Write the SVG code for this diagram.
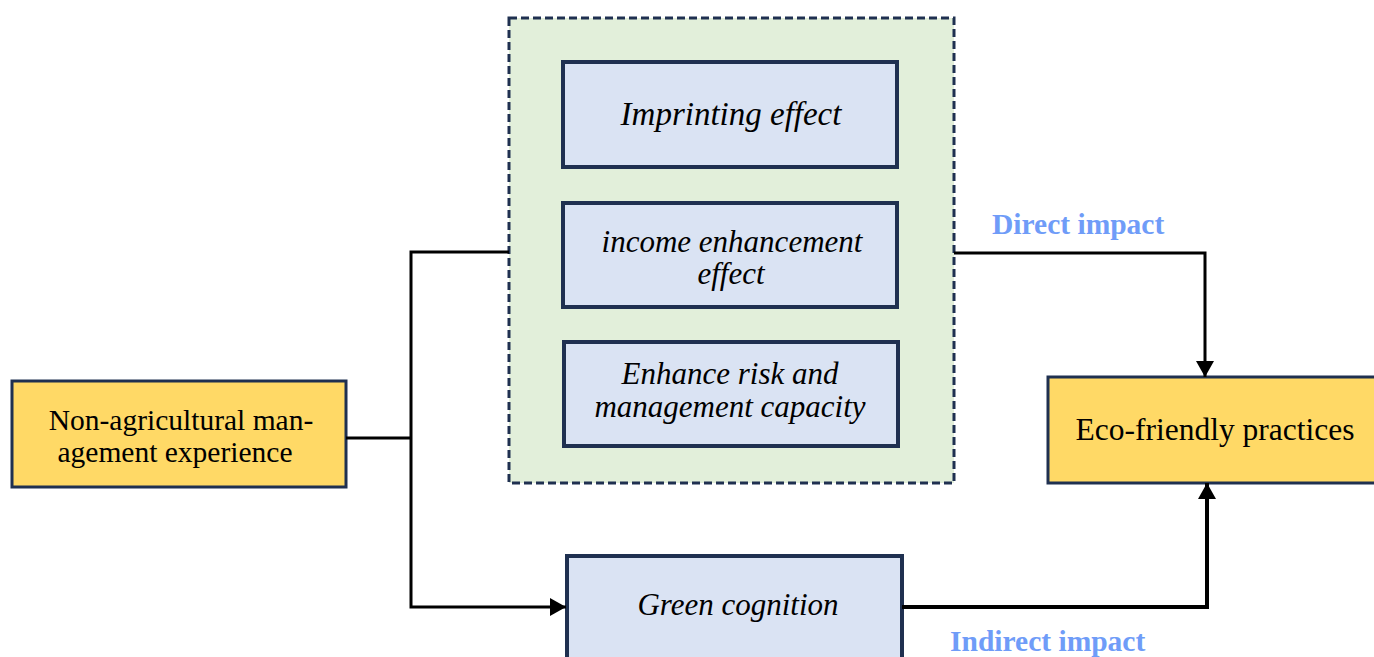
<svg xmlns="http://www.w3.org/2000/svg" width="1374" height="657" viewBox="0 0 1374 657">
<defs>
<style>
.yel{fill:#FFD966;stroke:#1F3050;stroke-width:3}
.blu{fill:#DAE3F3;stroke:#1F3050;stroke-width:4}
.cont{fill:#E2EFDA;stroke:#1F3050;stroke-width:3;stroke-dasharray:8 4}
.t{font-family:"Liberation Serif","Times New Roman",serif;fill:#000;text-anchor:middle}
.it{font-style:italic;font-size:31px}
.rg{font-size:29.5px}
.lab{font-family:"Liberation Serif","Times New Roman",serif;font-weight:bold;font-size:29.5px;fill:#6F9CF8}
.ln{fill:none;stroke:#000;stroke-width:3}
</style>
<marker id="arr" markerUnits="userSpaceOnUse" markerWidth="18" markerHeight="18" refX="16" refY="9" orient="auto">
<path d="M0,0 L16,9 L0,18 z" fill="#000"/>
</marker>
</defs>
<g id="mechanisms">
<rect class="cont" x="509" y="18" width="445" height="465"/>
</g>
<g id="imprinting">
<rect class="blu" x="563" y="62" width="334" height="105"/>
<text class="t it" x="731" y="125" style="font-size:33px">Imprinting effect</text>
</g>
<g id="income">
<rect class="blu" x="563" y="203" width="334" height="104"/>
<text class="t it" x="732" y="252">income enhancement</text>
<text class="t it" x="731" y="284">effect</text>
</g>
<g id="risk">
<rect class="blu" x="564" y="342" width="334" height="104"/>
<text class="t it" x="730" y="384">Enhance risk and</text>
<text class="t it" x="730" y="417">management capacity</text>
</g>
<g id="nonagri">
<rect class="yel" x="12" y="381" width="334" height="106"/>
<text class="t rg" x="181" y="430">Non-agricultural man-</text>
<text class="t rg" x="175" y="462">agement experience</text>
</g>
<g id="eco">
<rect class="yel" x="1048" y="377" width="334" height="106"/>
<text class="t rg" x="1215" y="440" style="font-size:31.5px">Eco-friendly practices</text>
</g>
<g id="green">
<rect class="blu" x="567" y="556" width="335" height="110"/>
<text class="t it" x="738" y="615">Green cognition</text>
</g>
<g id="connectors">
<polyline class="ln" points="346,438 411,438"/>
<polyline class="ln" points="509,252 411,252 411,607 566,607" marker-end="url(#arr)"/>
<polyline class="ln" points="954,253 1205,253 1205,377" marker-end="url(#arr)"/>
<polyline class="ln" style="stroke-width:4" points="902,607 1207,607 1207,483" marker-end="url(#arr)"/>
</g>
<g id="labels">
<text class="lab" x="992" y="234">Direct impact</text>
<text class="lab" x="950" y="651">Indirect impact</text>
</g>
</svg>
